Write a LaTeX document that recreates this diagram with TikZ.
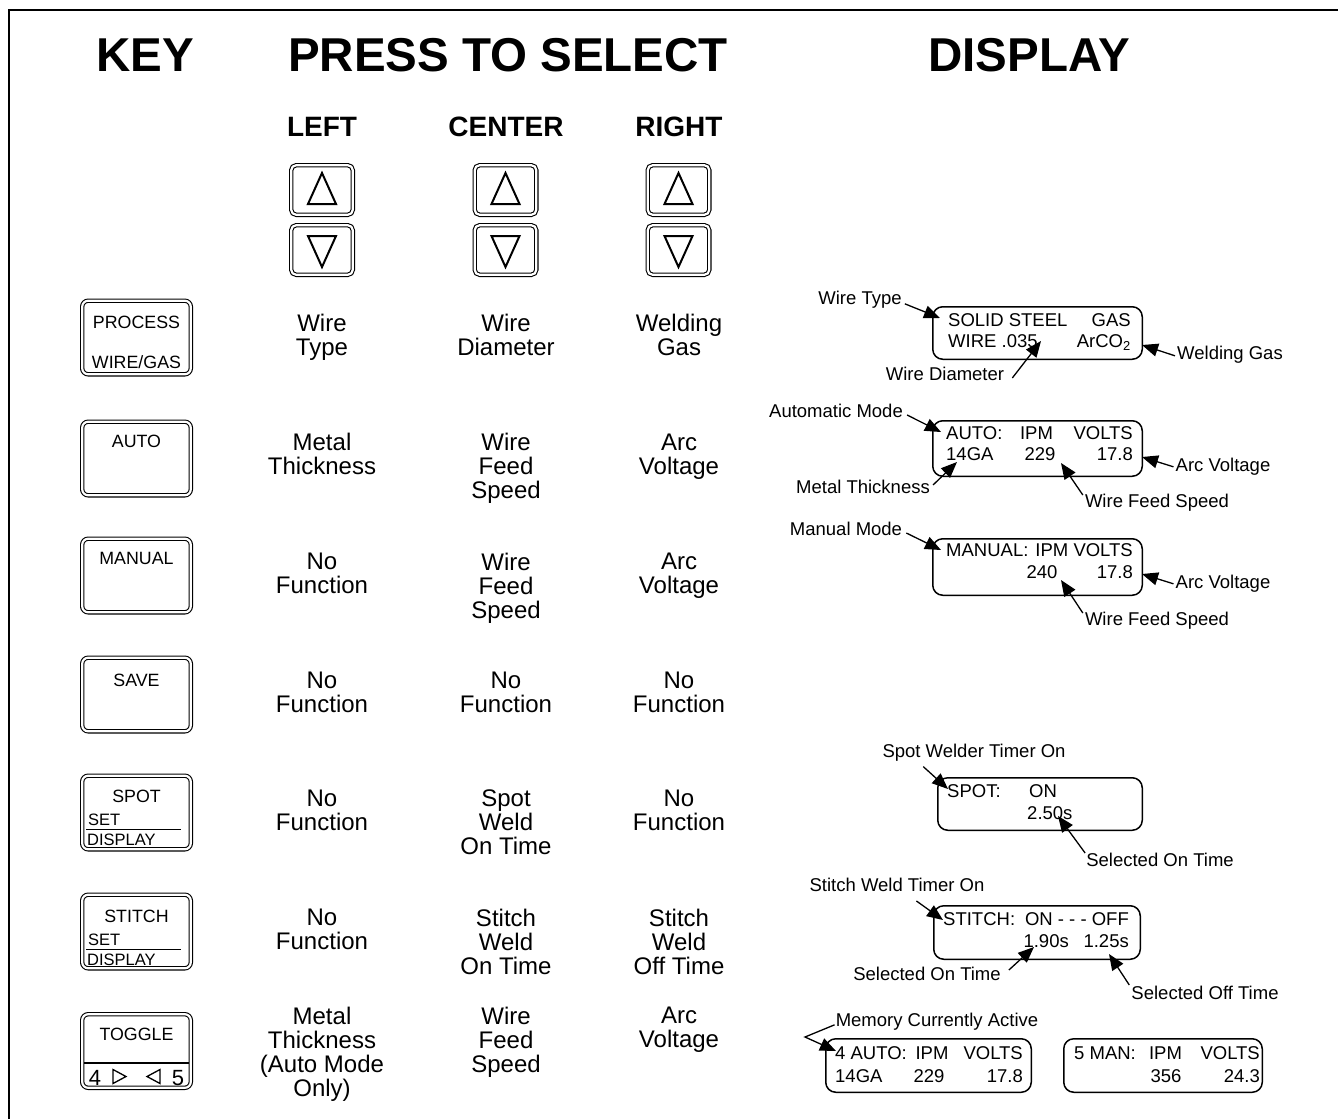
\documentclass[tikz,border=0pt]{standalone}
\usepackage{fontspec}
\setmainfont{Liberation Sans}
\usetikzlibrary{arrows.meta}
\begin{document}
\begin{tikzpicture}[x=1pt,y=-1pt,
  ttl/.style={font=\fontsize{47.5}{47.5}\selectfont\bfseries, inner sep=0pt},
  hdr/.style={font=\fontsize{28}{28}\selectfont\bfseries, inner sep=0pt},
  fn/.style={font=\fontsize{24}{24}\selectfont, align=center, anchor=north, inner sep=0pt},
  keybox/.style={draw, double, double distance=2.2pt, line width=1.1pt, rounded corners=6pt, minimum width=108.6pt, minimum height=73.6pt, inner sep=0pt},
  arrbox/.style={draw, double, double distance=2.2pt, line width=1.1pt, rounded corners=5pt, minimum width=61.6pt, minimum height=49.6pt, inner sep=0pt},
  keytxt/.style={font=\fontsize{17.8}{17.8}\selectfont, inner sep=0pt},
  smalltxt/.style={font=\fontsize{16.5}{16.5}\selectfont, inner sep=0pt, anchor=base west},
  digit/.style={font=\fontsize{22}{22}\selectfont, inner sep=0pt, anchor=base},
  disp/.style={draw, line width=1.5pt, rounded corners=10pt, inner sep=0pt},
  dt/.style={font=\fontsize{18.5}{18.5}\selectfont, inner sep=0pt},
  lbl/.style={font=\fontsize{18.5}{18.5}\selectfont, inner sep=0pt, anchor=base},
  ann/.style={line width=1.3pt, -{Triangle[length=16pt,width=13pt]}},
  tri/.style={line width=2pt, line join=miter},
  sep/.style={line width=1.3pt},
]
\useasboundingbox (0,0) rectangle (1338,1119);
% frame
\draw[line width=2.6pt] (9,1119) -- (9,10) -- (1338,10);

% titles
\node[ttl] (tkey) at (145.5,55) {KEY};
\node[ttl] (tpress) at (508,55) {PRESS TO SELECT};
\node[ttl] (tdisp) at (1029,55) {DISPLAY};
\node[hdr] (hleft) at (322,127) {LEFT};
\node[hdr] (hcenter) at (506,127) {CENTER};
\node[hdr] (hright) at (679,127) {RIGHT};

% arrow buttons
\foreach \cx/\nm in {322/l,505.5/c,678.5/r}{
  \node[arrbox] (up\nm) at (\cx,190) {};
  \node[arrbox] (dn\nm) at (\cx,250) {};
  \draw[tri] (\cx-14,204) -- (\cx,173) -- (\cx+14,204) -- cycle;
  \draw[tri] (\cx-14,236) -- (\cx,267) -- (\cx+14,236) -- cycle;
}

% key buttons
\node[keybox] (kproc) at (136.5,337.5) {};
\node[keytxt] (tproc) at (136.5,322) {PROCESS};
\node[keytxt] (twg) at (136.5,362) {WIRE/GAS};
\node[keybox] (kauto) at (136.5,458.5) {};
\node[keytxt] (tauto) at (136.5,441) {AUTO};
\node[keybox] (kman) at (136.5,575.5) {};
\node[keytxt] (tman) at (136.5,558) {MANUAL};
\node[keybox] (ksave) at (136.5,694.5) {};
\node[keytxt] (tsave) at (136.5,680) {SAVE};
\node[keybox] (kspot) at (136.5,812.5) {};
\node[keytxt] (tspot) at (136.5,796) {SPOT};
\node[smalltxt] (sset1) at (88,825.5) {SET};
\draw[sep] (86,829.5) -- (181,829.5);
\node[smalltxt] (sdisp1) at (87,845.5) {DISPLAY};
\node[keybox] (kstitch) at (136.5,931.5) {};
\node[keytxt] (tstitch) at (136.5,916) {STITCH};
\node[smalltxt] (sset2) at (88,945.5) {SET};
\draw[sep] (86,949.5) -- (181,949.5);
\node[smalltxt] (sdisp2) at (87,965.5) {DISPLAY};
\node[keybox] (ktog) at (136.5,1051) {};
\node[keytxt] (ttog) at (136.5,1034) {TOGGLE};
\draw[sep] (84,1063) -- (189,1063);
\node[digit] (d4) at (95,1085) {4};
\node[digit] (d5) at (178,1085) {5};
\draw[sep, line join=miter] (113,1069.5) -- (126,1076.5) -- (113,1083.5) -- cycle;
\draw[sep, line join=miter] (160,1069.5) -- (147,1076.5) -- (160,1083.5) -- cycle;

% function texts
\node[fn] (f11) at (322,314.4) {Wire\\Type};
\node[fn] (f12) at (506,314.4) {Wire\\Diameter};
\node[fn] (f13) at (679,314.4) {Welding\\Gas};
\node[fn] (f21) at (322,433.4) {Metal\\Thickness};
\node[fn] (f22) at (506,433.4) {Wire\\Feed\\Speed};
\node[fn] (f23) at (679,433.4) {Arc\\Voltage};
\node[fn] (f31) at (322,552.4) {No\\Function};
\node[fn] (f32) at (506,552.4) {Wire\\Feed\\Speed};
\node[fn] (f33) at (679,552.4) {Arc\\Voltage};
\node[fn] (f41) at (322,671.4) {No\\Function};
\node[fn] (f42) at (506,671.4) {No\\Function};
\node[fn] (f43) at (679,671.4) {No\\Function};
\node[fn] (f51) at (322,789.4) {No\\Function};
\node[fn] (f52) at (506,789.4) {Spot\\Weld\\On Time};
\node[fn] (f53) at (679,789.4) {No\\Function};
\node[fn] (f61) at (322,908.4) {No\\Function};
\node[fn] (f62) at (506,908.4) {Stitch\\Weld\\On Time};
\node[fn] (f63) at (679,908.4) {Stitch\\Weld\\Off Time};
\node[fn] (f71) at (322,1006.4) {Metal\\Thickness\\(Auto Mode\\Only)};
\node[fn] (f72) at (506,1006.4) {Wire\\Feed\\Speed};
\node[fn] (f73) at (679,1006.4) {Arc\\Voltage};

% display boxes
\node[disp, minimum width=209.5pt, minimum height=52.5pt] (b1) at (1037.5,333) {};
\node[dt, anchor=base west] (b1a) at (948,326.6) {SOLID STEEL};
\node[dt, anchor=base east] (b1b) at (1131,326.6) {GAS};
\node[dt, anchor=base west] (b1c) at (948,347.6) {WIRE .035};
\node[dt, anchor=base east] (b1d) at (1131,347.6) {ArCO\textsubscript{2}};

\node[disp, minimum width=209.5pt, minimum height=55.5pt] (b2) at (1037.5,448.5) {};
\node[dt, anchor=base west] (b2a) at (946,439.6) {AUTO:};
\node[dt, anchor=base] (b2b) at (1036.5,439.6) {IPM};
\node[dt, anchor=base east] (b2c) at (1133,439.6) {VOLTS};
\node[dt, anchor=base west] (b2d) at (946,460.6) {14GA};
\node[dt, anchor=base] (b2e) at (1040,460.6) {229};
\node[dt, anchor=base east] (b2f) at (1133,460.6) {17.8};

\node[disp, minimum width=209.5pt, minimum height=56.5pt] (b3) at (1037.5,567) {};
\node[dt, anchor=base west] (b3a) at (946,556.6) {MANUAL:};
\node[dt, anchor=base east] (b3b) at (1133,556.6) {IPM VOLTS};
\node[dt, anchor=base] (b3c) at (1042,578.6) {240};
\node[dt, anchor=base east] (b3d) at (1133,578.6) {17.8};

\node[disp, minimum width=204.5pt, minimum height=52.5pt] (b4) at (1040,804) {};
\node[dt, anchor=base west] (b4a) at (947,797.6) {SPOT:};
\node[dt, anchor=base west] (b4b) at (1029,797.6) {ON};
\node[dt, anchor=base west] (b4c) at (1027,819.6) {2.50s};

\node[disp, minimum width=206.5pt, minimum height=53.5pt] (b5) at (1037,932.5) {};
\node[dt, anchor=base west] (b5a) at (943,925.6) {STITCH:};
\node[dt, anchor=base east] (b5b) at (1129,925.6) {ON - - - OFF};
\node[dt, anchor=base east] (b5c) at (1069,947.6) {1.90s};
\node[dt, anchor=base east] (b5d) at (1129,947.6) {1.25s};

\node[disp, minimum width=205.5pt, minimum height=53.5pt] (b6) at (928.5,1065.5) {};
\node[dt, anchor=base west] (b6a) at (835,1059.6) {4 AUTO:};
\node[dt, anchor=base] (b6b) at (932,1059.6) {IPM};
\node[dt, anchor=base east] (b6c) at (1023,1059.6) {VOLTS};
\node[dt, anchor=base west] (b6d) at (835,1082.6) {14GA};
\node[dt, anchor=base] (b6e) at (929,1082.6) {229};
\node[dt, anchor=base east] (b6f) at (1023,1082.6) {17.8};

\node[disp, minimum width=198.5pt, minimum height=53.5pt] (b7) at (1163,1065.5) {};
\node[dt, anchor=base west] (b7a) at (1074,1059.6) {5 MAN:};
\node[dt, anchor=base] (b7b) at (1165.5,1059.6) {IPM};
\node[dt, anchor=base east] (b7c) at (1260,1059.6) {VOLTS};
\node[dt, anchor=base] (b7d) at (1166,1082.6) {356};
\node[dt, anchor=base east] (b7e) at (1260,1082.6) {24.3};

% annotation labels
\node[lbl] (lwt) at (860,304.6) {Wire Type};
\node[lbl] (lwd) at (945,380.6) {Wire Diameter};
\node[lbl] (lwg) at (1230,359.6) {Welding Gas};
\node[lbl] (lam) at (836,417.6) {Automatic Mode};
\node[lbl] (lmt) at (863,493.6) {Metal Thickness};
\node[lbl] (lav1) at (1223,471.6) {Arc Voltage};
\node[lbl] (lwf1) at (1157,507.6) {Wire Feed Speed};
\node[lbl] (lmm) at (846,535.6) {Manual Mode};
\node[lbl] (lav2) at (1223,588.6) {Arc Voltage};
\node[lbl] (lwf2) at (1157,625.6) {Wire Feed Speed};
\node[lbl] (lsw) at (974,757.6) {Spot Welder Timer On};
\node[lbl] (lso1) at (1160,866.6) {Selected On Time};
\node[lbl] (lst) at (897,891.6) {Stitch Weld Timer On};
\node[lbl] (lso2) at (927,980.6) {Selected On Time};
\node[lbl] (lsf) at (1205,999.6) {Selected Off Time};
\node[lbl] (lmc) at (937,1026.6) {Memory Currently Active};

% arrow targets
\coordinate (h1) at (940,318);
\coordinate (h2) at (1041,341);
\coordinate (h3) at (1142,345);
\coordinate (h4) at (941,432);
\coordinate (h5) at (957,462);
\coordinate (h6) at (1142,457);
\coordinate (h7) at (1061,463);
\coordinate (h8) at (941,550);
\coordinate (h9) at (1142,574);
\coordinate (h10) at (1061,580);
\coordinate (h11) at (948,789);
\coordinate (h12) at (1058,816);
\coordinate (h13) at (943,920);
\coordinate (h14) at (1034,947);
\coordinate (h15) at (1109,954);
\coordinate (h16) at (836,1051);
\coordinate (m16) at (805,1037);

\draw[ann] ([shift={(3,4)}]lwt.east) -- (h1);
\draw[ann] ([shift={(8,4)}]lwd.east) -- (h2);
\draw[ann] ([shift={(-2,1)}]lwg.west) -- (h3);
\draw[ann] ([shift={(4,4)}]lam.east) -- (h4);
\draw[ann] ([shift={(3,-2)}]lmt.east) -- (h5);
\draw[ann] ([shift={(-2,0)}]lav1.west) -- (h6);
\draw[ann] ([shift={(-2,1)}]lwf1.north west) -- (h7);
\draw[ann] ([shift={(4,4)}]lmm.east) -- (h8);
\draw[ann] ([shift={(-2,0)}]lav2.west) -- (h9);
\draw[ann] ([shift={(-2,1)}]lwf2.north west) -- (h10);
\draw[ann] ([shift={(41,5)}]lsw.south west) -- (h11);
\draw[ann] ([shift={(-1,0)}]lso1.north west) -- (h12);
\draw[ann] ([shift={(107,9)}]lst.south west) -- (h13);
\draw[ann] ([shift={(8,-4)}]lso2.east) -- (h14);
\draw[ann] ([shift={(-2,-1)}]lsf.north west) -- (h15);
\draw[ann] ([shift={(-1,3)}]lmc.west) -- (m16) -- (h16);
\end{tikzpicture}
\end{document}
